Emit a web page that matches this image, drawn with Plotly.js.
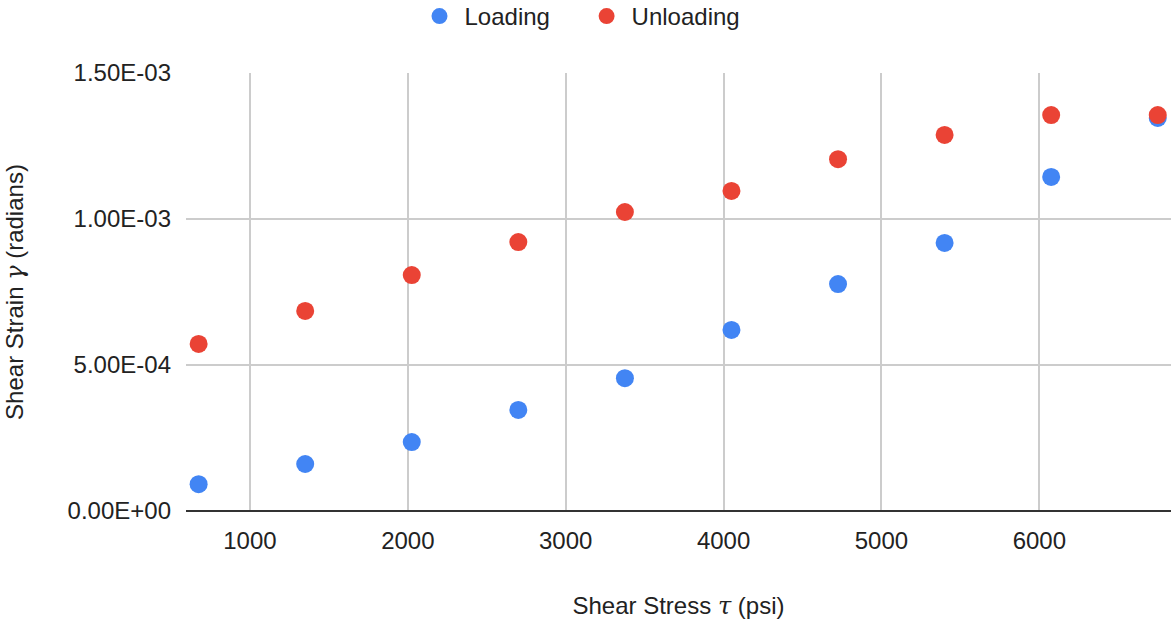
<!DOCTYPE html>
<html>
<head>
<meta charset="utf-8">
<script src="https://cdn.plot.ly/plotly-3.0.1.min.js"></script>
<style>html,body{margin:0;padding:0;background:#fff;}#chart{width:1171px;height:623px;}</style>
</head>
<body>
<div id="chart"></div>
<script>
const shearStress = [675, 1350, 2025, 2700, 3375, 4050, 4725, 5400, 6075, 6750];
const loadingStrain = [0.000092, 0.000161, 0.000236, 0.000346, 0.000455, 0.000620, 0.000777, 0.000918, 0.001144, 0.001346];
const unloadingStrain = [0.000572, 0.000685, 0.000808, 0.000921, 0.001024, 0.001096, 0.001205, 0.001288, 0.001356, 0.001356];
const xTickVals = [1000, 2000, 3000, 4000, 5000, 6000];
const yTickVals = [0, 0.0005, 0.001, 0.0015];
const yTickText = ["0.00E+00", "5.00E-04", "1.00E-03", "1.50E-03"];
const seriesNames = ["Loading", "Unloading"];

const font = "Liberation Sans, Arial, sans-serif";
const txt = "#222";
const sp = "\u00a0\u00a0\u00a0\u00a0";
const traces = [
  {x: shearStress, y: loadingStrain, name: seriesNames[0] + sp, type: "scatter", mode: "markers",
   marker: {color: "#4285F4", size: 18}},
  {x: shearStress, y: unloadingStrain, name: seriesNames[1], type: "scatter", mode: "markers",
   marker: {color: "#EA4335", size: 18}}
];
const layout = {
  width: 1171, height: 623,
  margin: {l: 186, r: 0, t: 73, b: 112, autoexpand: false},
  paper_bgcolor: "#fff", plot_bgcolor: "#fff",
  font: {family: font, size: 24, color: txt},
  showlegend: true,
  legend: {orientation: "h", x: 0.4, xanchor: "center", y: 1.129, yanchor: "middle",
           font: {family: font, size: 24, color: txt}, itemwidth: 40},
  xaxis: {range: [595, 6834], tickvals: xTickVals, showgrid: true, gridcolor: "#cccccc", gridwidth: 2,
          zeroline: false, showline: false, ticks: "", ticklabelstandoff: 13, tickangle: 0,
          tickfont: {family: font, size: 24, color: txt},
          title: {text: "Shear Stress <span style=\"font-family:DejaVu Serif\"><i>τ</i></span> (psi)", font: {family: font, size: 24, color: txt}, standoff: 44}},
  yaxis: {range: [0, 0.0015], tickvals: yTickVals, ticktext: yTickText, showgrid: true, gridcolor: "#cccccc", gridwidth: 2,
          zeroline: true, zerolinecolor: "#333", zerolinewidth: 2, showline: false, ticks: "", ticklabelstandoff: 14,
          tickfont: {family: font, size: 24, color: txt},
          title: {text: "Shear Strain <span style=\"font-family:DejaVu Serif\"><i>γ</i></span> (radians)", font: {family: font, size: 24, color: txt}, standoff: 37}}
};
Plotly.newPlot("chart", traces, layout, {displayModeBar: false});
</script>
</body>
</html>
